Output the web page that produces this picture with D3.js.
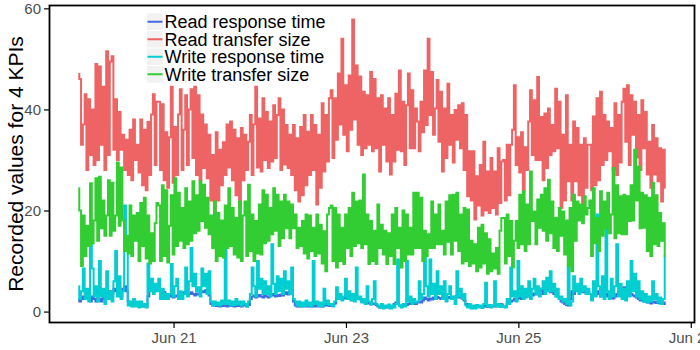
<!DOCTYPE html>
<html>
<head>
<meta charset="utf-8">
<script src="https://cdnjs.cloudflare.com/ajax/libs/d3/7.8.5/d3.min.js"></script>
<style>
    body { margin: 0; background: #ffffff; }
    svg { display: block; font-family: "Liberation Sans", Arial, sans-serif; }
</style>
</head>
<body>
<div id="chart"></div>
<script>
// one reading every 30 minutes from this start time
var startTime = "2017-06-19 21:30";
var stepMinutes = 30;

var seriesNames = ["Read response time", "Read transfer size", "Write response time", "Write transfer size"];
var xTickDays = ["2017-06-21", "2017-06-23", "2017-06-25", "2017-06-27"];
var yTicks = [0, 20, 40, 60];

var readResponse = [
    2.5,2,2.5,3,2.5,3,2.5,2,3,2.5,2,3,2.5,2,3,2.5,3.5,3,4,3.5,4.5,4,3.5,4,3,4.5,5,4,2,1.5,1.2,1.5,1.2,1.5,1,1.2,1,1.2,1,3,4.2,4.5,4,4.8,4.5,
    4.5,4,4.2,3.8,3.5,3,3.2,3,2.8,3,3.2,3.5,3.3,3.6,3.8,3.5,3.2,3.5,3.8,3.5,3.2,3.6,3.4,3.8,4,3.8,4.2,3.6,3.2,1.5,1.2,1.3,1.1,1.2,1,1.3,1.1,1.2,1,1.2,1.1,1.2,1,1.3,1.1,1.2,1,1.2,
    1.2,1,1.3,2.5,3,3.2,2.8,3,3.3,3,2.8,3.2,3,2.8,3.2,3.5,3.2,3,3.3,3.1,3.4,3.2,3.5,3.8,3.4,5.5,4,2,1.2,1,1.2,1,1.2,1,1.1,1,1.2,1,1.3,1,1.2,1,1.3,1,1.5,1.2,1.3,1.1,
    1.5,1.3,1.6,2.8,2.5,3,2.8,2.6,3,2.7,2.9,2.6,2.8,2.5,3,2.6,2.4,2,2.2,1.8,2,1.6,1.4,1.5,1.6,1.3,1,0.8,1,0.7,0.9,0.8,1,0.7,1,1.5,1.8,1.6,1.2,1,1.2,1.1,1.3,1.5,1.8,1.5,1.7,1.5,
    1.8,2,1.8,2.2,2.8,2.5,2.2,2.6,2.4,2.8,2.5,2.9,2.7,2.5,2.8,2.6,2.4,2.9,2.7,2.5,2.8,3,3.2,2.8,3,2.6,2.2,1.5,1,1.2,0.8,1,0.8,1,0.9,1,0.8,1.1,1,0.9,1,1.1,1.2,1,1.2,1.3,1.5,1.4,
    1,0.9,1.5,1.8,2,2.2,2.5,2.3,2.6,2.8,2.5,3,2.8,3.2,3,3.4,3.2,3.6,3.4,3.8,4,4.5,3.5,4.8,4.2,5,3.8,4.6,3.5,4.2,3,2.5,2,1.8,1.5,1.3,1.2,2.5,4,3.5,4.2,4.8,4,4.5,3.8,4.2,3.5,4,
    3.5,2.5,3.8,3.2,4,3.5,3,3.8,3.2,3.6,3,2.8,3.2,2.6,3,3.5,3.8,4.2,4.5,4.8,4.2,4.6,4,3.5,3.2,3,2.8,2.5,2.2,2.5,2,2.2,1.8,2,1.6,1.8,2,1.7,1.9,1.6,1.8,1.5,1.8
];

var readTransfer = [
    47,46,33,37,43,28,42,31,40,29,49,30,48.5,33,44.5,28,51.5,31,49.5,50.5,32,42,30,39.5,32,35,28,34,27,36,26,38,30,33,27.5,38,25,36,24,37.5,27,39,43,29,41.5,
    41.5,28,41,26,35.5,24.5,34.5,44.5,25.5,36.5,27,39,44,28,36,42.8,29,40,44,30.4,44.5,27,42.8,26,39,28.4,37,26.4,35,22,31,18.5,35.5,22,32,25,33.5,27,37,28.5,37.6,26,36,23,34.3,20.5,36.3,26,
    35,28,33.6,38.9,27,37,44.5,28.5,38.2,27.7,42.2,30,39.5,28.4,37.6,29.7,40.8,30.4,38.9,42.2,28,40,29.1,36.9,28.4,35,27,36.9,24,34.3,21.8,36.5,23,38.9,25,35.6,27,38.9,28,36.9,21.2,35,24.5,41.2,27.7,38.9,29.7,42.2,
    43.8,30.4,42.2,34,47.1,37,54,35,44.8,31.7,46.7,36,57.8,38,48.7,33,46.5,31,43.5,32.3,42.8,33,47.4,31.7,46,32.3,42.2,27.7,42.8,33,40.2,29.7,42.2,27.1,38.9,29.7,43.1,32,47.7,31.7,41.5,29,40.8,47.1,32.3,43.8,32.3,40.2,
    37.6,31.7,41.5,35.5,47.7,36.9,54,38.9,47.4,35,40.2,45.8,33.6,43.5,27.7,40.2,30.4,45.1,33,38.9,29.5,39.9,34,40.8,32.3,41.2,28,38.9,22.8,31.7,22,31.7,18.2,26.8,21,29,19,33.6,20,27.7,19.5,30.4,20.5,27.7,19.2,32.3,21.5,29.7,
    30,22,33,23,33,36,44.8,29,34.5,27.5,35.5,24,32.5,28,37.6,43.8,31,41.8,30,46.4,30,38.5,26,39.2,28.4,40.2,31,36.9,31.7,44.1,32.3,41.5,20.5,35,22,42.8,25.8,33,22,37.6,25.8,36.3,23,33,20,34.3,24.5,33,
    33,24,38.6,25,42.2,26,43.5,29,38.9,30,37.6,31.7,36.3,28,41.2,27,38.9,29.5,41.5,44.1,33.6,44.8,29,42.8,35,41.5,30.5,38.9,28,41.8,32.3,39.5,27.1,33.6,24.5,36.9,27.1,34.3,25.8,32.3,21.8,32,24.5
];

var writeResponse = [
    5,2.5,4,8.5,2.5,4.5,2,13.5,8.5,3,5,2,10,3,4.5,1.5,8,2.5,4,2,6,12,3,7,2.5,4,21,12.5,1.2,2,1,2.5,1,2,0.8,2,1,1.5,0.8,9.5,4,6.5,3.5,5.5,4,
    6.5,2.5,4.5,2.5,3.5,2.5,3.5,9.4,3,5,6.5,2.5,4,2.5,3.5,8.7,3,6,12.6,5,7.5,4,4.8,3,8.5,5,7.5,3.5,8,2,1.2,2,1.3,1.8,1.2,2.2,1.5,12.6,1.5,2.2,1.2,2,1.3,2.5,1.4,2,1.2,2,
    1.5,1,2,3.5,8.7,5,3,10,4.5,6.5,3.5,6,3.5,5,3,13.3,5.5,3.5,7,4,6.5,3.5,8,4.5,6,3.5,8.7,2.5,2,1.2,2,1,1.8,1.1,2.2,1.2,1.8,1,10,1.5,2,1.1,1.8,1,4.5,1.5,2.2,1.3,
    1.5,1,2,4.8,2.5,3.5,2.2,3,6.5,2.5,4,2.2,3.5,2,8.7,2.5,3,1.8,2.5,1.5,5,2,1.5,2.5,6,1.5,1.2,0.8,1.5,0.6,1.2,0.8,1.4,0.6,1.2,0.8,1.5,10.3,1.2,0.8,1.5,1,10,2,3,1.5,2.5,1.8,
    2,6,2.5,3.5,11.3,5,3,10.3,3.5,5.5,2.5,8,3.5,5,2.5,6,2,3.5,5,2.5,3,1.5,8,3,4.5,2.5,3.5,1.2,0.8,1.5,0.6,1.2,0.6,1.3,0.8,1.2,0.7,1.5,5.7,1,1.3,0.8,1.2,6,1,1.5,0.9,1.3,
    1,0.8,2.5,1.5,8.7,3,4,2,10,3,5,2.5,4.5,3,6,2.5,4.5,6.5,3.5,5,3,4.5,6,3.5,6.7,4,8,4,5.5,3,4.5,2.5,3,2,2.5,1.5,8.7,1.2,2,7,4,5.5,3.5,6.5,4,5,3.5,4.5,
    3.5,2.2,6,3,19.2,5,3,7,2.5,16.6,4,2.5,6.5,3,5,13.3,3,5.5,2.5,4.5,2.2,6,3,10,4,7.5,3,6,2.5,4,2,3.5,1.8,3,2,6,2.5,3.5,1.8,2.8,1.5,2.5,11
];

var writeTransfer = [
    24.4,20,9,19,11,17,13,25.4,13.5,18,26.4,14,26.7,16.5,22,15,19,26,15,25.5,16,19,29.5,17,28.5,18,12,15,11.5,21,11,19,14,19.5,10,21.5,13,22.5,10.5,19,9.5,15.5,10,17.5,21.5,
    21,10,25,11,24,9.7,17,23,11.3,26.4,13,23.5,14,20.5,12.6,24.4,13.3,21.8,14,25.8,15.5,23,16,25.8,17.9,25.1,16.6,22.5,15.3,19,12.6,21.8,10,19.5,11,18,10.7,21,12.6,24.4,13,20.5,11.3,18.5,10.7,21.8,10,19,
    21.8,11,25.1,12,19.2,10,17.9,11.5,21.2,11.3,24,13.5,23.1,14,20.5,15.3,24.4,16,23.1,13,21.8,14.5,23.1,16.5,21.8,14.5,21.2,16.5,19.2,12.6,16.6,13,17.9,11.5,19.2,10.5,19,12,16.6,11,19.2,11.5,17.2,9.5,15.9,8,19.2,20.5,
    21,10,20.5,8.7,19.2,10,16.6,9.4,19.2,12.6,20.5,11,23.5,13,21.8,13.5,22,12.6,27.1,13.3,19.2,9.4,17.9,10,16,9.4,21.2,12.6,17.2,11.3,16,9.4,15.5,11,19.2,9.4,20.5,12.6,16.6,8.7,20,10,19.2,11.3,16.6,11.3,23.5,12.6,
    23.5,12.6,22.5,10,16,11,15.3,12.6,21.8,12.6,19.2,13.3,21.2,13.3,16,11.3,21.8,13.8,23,11.3,23.1,14,23.5,12,19.2,9.5,20.5,10,20.2,9,14,9.5,13.3,8,16.6,8.7,17.2,9.5,15.5,7.5,14.3,8,11.5,8.5,12.6,7.5,16,18.5,
    18.5,9.5,19.2,11,17.9,8.7,14,17.9,12.6,23.1,13.3,23.8,12,21.2,13.3,27.7,17.9,19.8,13.3,22.2,16.6,23.1,16,24.4,14,26.1,15.5,21.8,12.6,18.5,12,20.5,15,19.8,11.3,18,9,20.5,8,23.1,14,21.8,18,21.2,17.5,22.8,19.2,20.5,
    22,11,24.4,13.5,18.5,12,23.8,15,21.8,16.5,23.5,15.5,19.2,28.4,14.5,25,15.5,22.8,15.3,23.1,15.3,22.8,17.9,25,18,32,22,28.7,16.5,23.5,16.6,23,12,22.5,11,25.5,13.3,23,13,19.5,14,17.5,11
];

function init() {
    var w = 700;
    var h = 350;
    var margin = {top: 5, right: 5, bottom: 27, left: 49};
    var pw = w - margin.left - margin.right;
    var ph = h - margin.top - margin.bottom;

    var colors = ["#4169E1", "#EE6363", "#00CED1", "#32CD32"];
    var values = [readResponse, readTransfer, writeResponse, writeTransfer];

    var parseStart = d3.timeParse("%Y-%m-%d %H:%M");
    var parseDay = d3.timeParse("%Y-%m-%d");
    var t0 = parseStart(startTime);

    var series = values.map(function(vals, k) {
        return {
            name: seriesNames[k],
            color: colors[k],
            points: vals.map(function(v, i) {
                return {t: d3.timeMinute.offset(t0, i * stepMinutes), v: v};
            })
        };
    });

    // ggplot style 5% padding around the data
    var allPts = d3.merge(series.map(function(s) { return s.points; }));
    var tExt = d3.extent(allPts, function(d) { return d.t; });
    var vExt = d3.extent(allPts, function(d) { return d.v; });
    var tPad = (tExt[1] - tExt[0]) * 0.05;
    var vPad = (vExt[1] - vExt[0]) * 0.05;

    var xScale = d3.scaleTime()
        .domain([new Date(+tExt[0] - tPad), new Date(+tExt[1] + tPad)])
        .range([0, pw]);

    var yScale = d3.scaleLinear()
        .domain([vExt[0] - vPad, vExt[1] + vPad])
        .range([ph, 0]);

    var svg = d3.select("#chart")
        .append("svg")
        .attr("width", w)
        .attr("height", h);

    var g = svg.append("g")
        .attr("transform", "translate(" + margin.left + "," + margin.top + ")");

    var line = d3.line()
        .curve(d3.curveStep)
        .x(function(d) { return xScale(d.t); })
        .y(function(d) { return yScale(d.v); });

    g.selectAll(".series")
        .data(series)
        .enter()
        .append("path")
        .attr("class", "series")
        .attr("fill", "none")
        .attr("stroke", function(d) { return d.color; })
        .attr("stroke-width", 2)
        .attr("d", function(d) { return line(d.points); });

    // axes
    var xAxis = g.append("g")
        .attr("transform", "translate(0," + ph + ")")
        .call(d3.axisBottom(xScale)
            .tickValues(xTickDays.map(function(s) { return parseDay(s); }))
            .tickFormat(d3.timeFormat("%b %d"))
            .tickSize(5)
            .tickPadding(4));

    var yAxis = g.append("g")
        .call(d3.axisLeft(yScale)
            .tickValues(yTicks)
            .tickSize(5)
            .tickPadding(3));

    [xAxis, yAxis].forEach(function(ax) {
        ax.select(".domain").remove();
        ax.selectAll(".tick line").attr("stroke", "#000000").attr("stroke-width", 1.2);
        ax.selectAll(".tick text")
            .attr("fill", "#4D4D4D")
            .style("font-size", "15px")
            .style("font-family", "'Liberation Sans', Arial, sans-serif");
    });

    // panel border
    g.append("rect")
        .attr("x", 0.5)
        .attr("y", 0.5)
        .attr("width", pw - 1)
        .attr("height", ph - 1)
        .attr("fill", "none")
        .attr("stroke", "#000000")
        .attr("stroke-width", 1.8);

    // y title
    svg.append("text")
        .attr("transform", "translate(23," + (margin.top + ph / 2) + ") rotate(-90)")
        .attr("text-anchor", "middle")
        .style("font-size", "21px")
        .attr("fill", "#000000")
        .text("Recorded values for 4 KPIs");

    // legend inside the panel
    var legend = svg.append("g")
        .attr("transform", "translate(147,13.5)");

    var rowH = 17.5;
    var items = legend.selectAll(".item")
        .data(series)
        .enter()
        .append("g")
        .attr("class", "item")
        .attr("transform", function(d, i) { return "translate(0," + (i * rowH) + ")"; });

    items.append("rect")
        .attr("width", 16)
        .attr("height", rowH - 1)
        .attr("fill", "#F2F2F2");

    items.append("line")
        .attr("x1", 0.5)
        .attr("x2", 15.5)
        .attr("y1", (rowH - 1) / 2)
        .attr("y2", (rowH - 1) / 2)
        .attr("stroke", function(d) { return d.color; })
        .attr("stroke-width", 2);

    items.append("text")
        .attr("x", 17.5)
        .attr("y", (rowH - 1) / 2)
        .attr("dy", "0.36em")
        .style("font-size", "18px")
        .attr("fill", "#000000")
        .text(function(d) { return d.name; });
}

window.onload = init;
</script>
</body>
</html>
